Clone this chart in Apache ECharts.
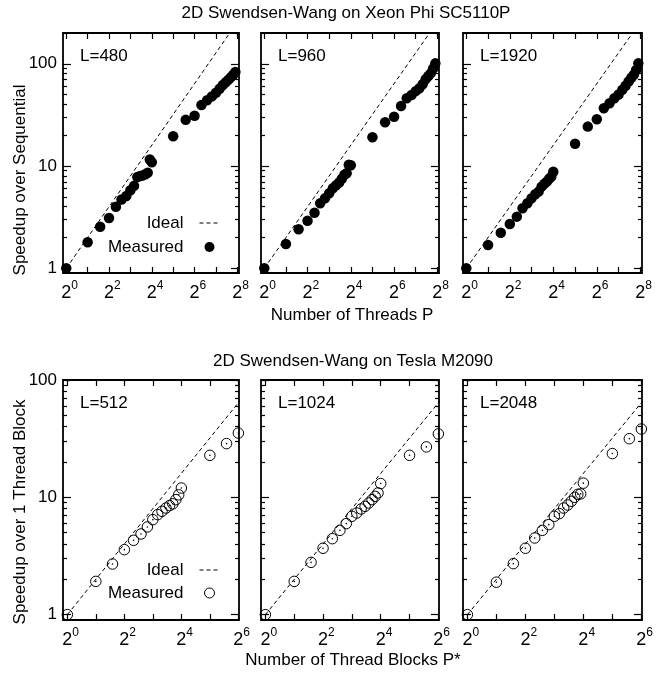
<!DOCTYPE html>
<html><head><meta charset="utf-8">
<script src="https://cdn.jsdelivr.net/npm/echarts@6/dist/echarts.min.js"></script>
<style>html,body{margin:0;padding:0;background:#fff}#c{width:664px;height:675px}</style>
</head><body><div id="c"></div>
<script>
// ---------- data ----------
const threadsP = [1,2,3,4,5,6,7,8,9,10,11,12,13,14,15,16,32,48,64,80,96,112,128,144,160,176,192,208,224,240];
const speedupL480  = [1.0,1.8,2.55,3.1,4.0,4.7,5.1,5.8,6.4,7.8,8.0,8.1,8.3,8.6,11.6,10.9,19.6,28.3,31,39.5,44,48,52,57,62,66,70,74,78,83];
const speedupL960  = [1.0,1.73,2.41,2.92,3.5,4.33,4.84,5.42,6.06,6.5,6.9,7.5,8.2,8.5,10.3,10.2,19.1,26.8,30.4,38.7,46,49.6,54,57.7,63,70.7,76,81,90,101];
const speedupL1920 = [1.0,1.69,2.23,2.71,3.2,3.86,4.33,4.84,5.3,5.62,6.29,6.7,7.04,7.5,7.88,8.8,16.5,24.3,28.7,36.7,41.1,46,50,55.6,61,67,73,78,87,101];

const blocksP = [1,2,3,4,5,6,7,8,9,10,11,12,13,14,15,16,32,48,64];
const speedupL512  = [1.0,1.92,2.7,3.58,4.3,4.87,5.59,6.45,7.12,7.6,8.1,8.5,8.8,9.55,10.5,12.0,22.8,28.7,35.3];
const speedupL1024 = [1.0,1.92,2.79,3.68,4.44,5.23,5.97,6.89,7.35,7.95,8.38,8.95,9.55,10.2,10.9,13.1,22.8,26.9,34.7];
const speedupL2048 = [1.0,1.89,2.72,3.68,4.5,5.23,5.85,6.89,7.26,8.1,8.6,9.25,10.0,10.6,10.7,13.2,23.6,31.6,38.2];

const idealX = [1, 256];
const idealY = [1, 256];

const xTicksTop = [1,2,4,8,16,32,64,128,256];
const xLabelsTop = [1,4,16,64,256];
const xTicksBottom = [1,2,4,8,16,32,64];
const xLabelsBottom = [1,4,16,64];
const yMajor = [1,10,100];
const yMinor = [2,3,4,5,6,7,8,9,20,30,40,50,60,70,80,90,200];

const panelLabelsTop = ['L=480','L=960','L=1920'];
const panelLabelsBottom = ['L=512','L=1024','L=2048'];
const titleTop = '2D Swendsen-Wang on Xeon Phi SC5110P';
const titleBottom = '2D Swendsen-Wang on Tesla M2090';
const yNameTop = 'Speedup over Sequential';
const yNameBottom = 'Speedup over 1 Thread Block';
const xNameTop = 'Number of Threads P';
const xNameBottom = 'Number of Thread Blocks P*';
const legendNames = ['Ideal','Measured'];

// ---------- layout ----------
const FONT = '"Liberation Sans", Arial, Helvetica, sans-serif';
const lefts = [63, 261, 463], widths = [176, 178, 179];
const rows = [
  {top:33, height:240, xMax:270, yMax:200, xTicks:xTicksTop, xLabels:xLabelsTop, xs:threadsP,
   ys:[speedupL480,speedupL960,speedupL1920], labels:panelLabelsTop, filled:true},
  {top:380, height:240, xMax:65, yMax:100, xTicks:xTicksBottom, xLabels:xLabelsBottom, xs:blocksP,
   ys:[speedupL512,speedupL1024,speedupL2048], labels:panelLabelsBottom, filled:false}
];

const fmtPow2 = v => { const e = Math.round(Math.log2(v)); return '{h|' + e + '}{b|2}{s|' + e + '}'; };
const rich = {
  h:{fontSize:12, color:'rgba(0,0,0,0)', fontFamily:FONT, verticalAlign:'top'},
  b:{fontSize:18, color:'#000', fontFamily:FONT, lineHeight:22, verticalAlign:'bottom'},
  s:{fontSize:12, color:'#000', fontFamily:FONT, verticalAlign:'top'}
};
const tickStyle = {color:'#000', width:1.2};

const grid=[], xAxis=[], yAxis=[], series=[], graphic=[];
rows.forEach((row) => {
  for (let c=0;c<3;c++){
    const gi = grid.length;
    grid.push({left:lefts[c], width:widths[c], top:row.top, height:row.height, show:true,
      borderColor:'#000', borderWidth:1.8, backgroundColor:'transparent', containLabel:false});
    const xBase = {type:'log', logBase:2, gridIndex:gi, min:0.9, max:row.xMax,
      splitLine:{show:false}, axisLine:{show:false,onZero:false},
      axisTick:{inside:true, length:6, customValues:row.xTicks, lineStyle:tickStyle}};
    const xi = xAxis.length;
    xAxis.push(Object.assign({}, xBase, {position:'bottom',
      axisLabel:{customValues:row.xLabels, formatter:fmtPow2, rich:rich, margin:7}}));
    xAxis.push(Object.assign({}, xBase, {position:'top', axisLabel:{show:false}}));
    const yBase = {type:'log', logBase:10, gridIndex:gi, min:0.9, max:row.yMax,
      splitLine:{show:false}, axisLine:{show:false,onZero:false}};
    const yi = yAxis.length;
    yAxis.push(Object.assign({}, yBase, {position:'left',
      axisTick:{inside:true, length:8, customValues:yMajor, lineStyle:tickStyle},
      axisLabel:{show:c===0, customValues:yMajor, margin:6, fontSize:17, fontFamily:FONT, color:'#000'}}));
    yAxis.push(Object.assign({}, yBase, {position:'left',
      axisTick:{inside:true, length:4, customValues:yMinor, lineStyle:tickStyle}, axisLabel:{show:false}}));
    yAxis.push(Object.assign({}, yBase, {position:'right',
      axisTick:{inside:true, length:8, customValues:yMajor, lineStyle:tickStyle}, axisLabel:{show:false}}));
    yAxis.push(Object.assign({}, yBase, {position:'right',
      axisTick:{inside:true, length:4, customValues:yMinor, lineStyle:tickStyle}, axisLabel:{show:false}}));

    series.push({type:'line', name:'Ideal', color:'#000', xAxisIndex:xi, yAxisIndex:yi, clip:true, silent:true,
      symbol:'none', data:idealX.map((x,i)=>[x, idealY[i]]),
      itemStyle:{color:'rgba(0,0,0,0)'},
      lineStyle:{color:'#000', width:1, type:[4,3]}});
    const pts = row.xs.map((x,i)=>[x, row.ys[c][i]]);
    if (row.filled) {
      series.push({type:'scatter', name:'Measured', color:'#000', xAxisIndex:xi, yAxisIndex:yi, clip:false,
        symbol:'circle', symbolSize:10.5, itemStyle:{color:'#000', opacity:1}, data:pts});
    } else {
      series.push({type:'scatter', name:'Measured', color:'#000', xAxisIndex:xi, yAxisIndex:yi, clip:false,
        symbol:'circle', symbolSize:10.5, itemStyle:{color:'rgba(0,0,0,0)', borderColor:'#000', borderWidth:1, opacity:1}, data:pts});
      series.push({type:'scatter', name:'center', xAxisIndex:xi, yAxisIndex:yi, clip:false, silent:true,
        symbol:'circle', symbolSize:1.6, itemStyle:{color:'#000', opacity:1}, data:pts});
    }
    graphic.push({type:'text', x:lefts[c]+17, y:row.top+23,
      style:{text:row.labels[c], fontSize:17, fontFamily:FONT, fill:'#000',
        textAlign:'left', align:'left', textVerticalAlign:'middle', verticalAlign:'middle'}});
  }
});

function txt(text, x, y, rot){
  return {type:'text', x:x, y:y, rotation:rot||0,
    style:{text:text, fontSize:17, fontFamily:FONT, fill:'#000',
      textAlign:'center', align:'center', textVerticalAlign:'middle', verticalAlign:'middle'}};
}
graphic.push(txt(titleTop, 346, 13));
graphic.push(txt(titleBottom, 353, 361));
graphic.push(txt(yNameTop, 20, 180, Math.PI/2));
graphic.push(txt(yNameBottom, 20, 512, Math.PI/2));
graphic.push(txt(xNameTop, 352, 315));
graphic.push(txt(xNameBottom, 353, 660));

const legendText = {fontSize:17, fontFamily:FONT, color:'#000', lineHeight:18, padding:[0,11,0,0]};
const idealLegend = {name:legendNames[0], itemStyle:{color:'rgba(0,0,0,0)', borderColor:'rgba(0,0,0,0)', borderWidth:0},
  lineStyle:{color:'#000', width:1, type:[4,3]}};
const legend = [
  {data:[idealLegend, {name:legendNames[1], itemStyle:{color:'#000', opacity:1}}],
   orient:'vertical', align:'right', right:444, top:214,
   itemWidth:20, itemHeight:10, itemGap:6, padding:0, selectedMode:false, textStyle:legendText},
  {data:[idealLegend, {name:legendNames[1], itemStyle:{color:'rgba(0,0,0,0)', borderColor:'#000', borderWidth:1, opacity:1}}],
   orient:'vertical', align:'right', right:444, top:561,
   itemWidth:20, itemHeight:10, itemGap:5, padding:0, selectedMode:false, textStyle:legendText}
];

const chart = echarts.init(document.getElementById('c'), null, {renderer:'canvas'});
chart.setOption({animation:false, backgroundColor:'#fff', textStyle:{fontFamily:FONT},
  grid, xAxis, yAxis, series, legend, graphic});
</script></body></html>
